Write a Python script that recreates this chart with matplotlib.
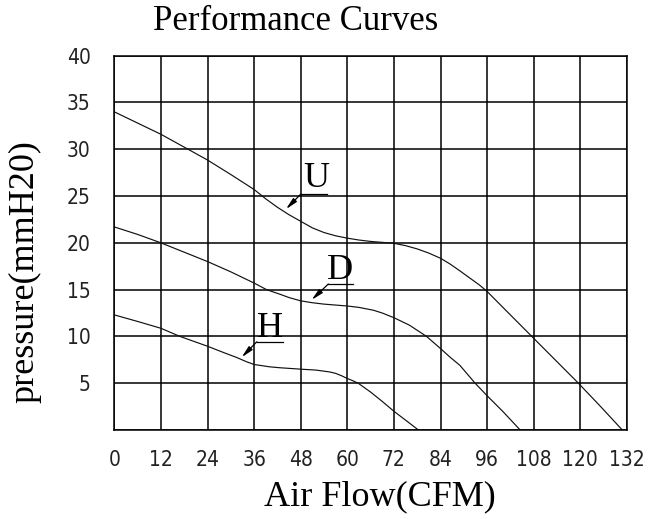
import matplotlib
matplotlib.use("Agg")
import matplotlib.pyplot as plt

plt.rcParams['font.family'] = ['Liberation Serif', 'DejaVu Serif']

# curve U
u_flow = [0, 6, 12, 19, 24, 30, 36, 39, 42, 45, 48, 51, 54, 57, 60, 63, 66, 69, 72, 75, 78,
          81, 84, 86.4, 89, 91.5, 94, 96, 101.5, 107.5, 113.5, 119.5, 125, 130.8]
u_pres = [34.0, 32.8, 31.6, 30.0, 28.85, 27.3, 25.7, 24.7, 23.8, 23.0, 22.3, 21.6, 21.1,
          20.75, 20.5, 20.3, 20.15, 20.05, 19.95, 19.7, 19.35, 18.9, 18.35, 17.75, 17.0,
          16.25, 15.5, 14.8, 12.5, 10.0, 7.5, 5.0, 2.6, 0.0]

# curve D
d_flow = [0, 6, 12, 18, 24, 30, 36, 39.2, 42.7, 45, 48, 51, 54, 57, 60, 63, 66.7, 69, 72, 76,
          80.4, 84, 86.4, 89, 92.9, 95.9, 100, 104.5]
d_pres = [21.7, 20.9, 20.0, 19.0, 18.0, 16.9, 15.7, 15.0, 14.5, 14.15, 13.8, 13.6, 13.45,
          13.35, 13.25, 13.1, 12.8, 12.5, 12.0, 11.2, 10.0, 8.7, 7.8, 6.9, 5.0, 3.7, 2.0, 0.0]

# curve H
h_flow = [0, 6, 12, 16.9, 24, 28, 31.5, 34, 36, 40, 42.7, 48, 52, 55.5, 57, 58.5, 60, 61.5,
          62.8, 66, 69, 72, 75, 78.3]
h_pres = [12.3, 11.6, 10.87, 10.0, 8.95, 8.3, 7.75, 7.3, 7.0, 6.75, 6.65, 6.5, 6.4, 6.2,
          6.05, 5.8, 5.5, 5.25, 5.0, 4.05, 3.05, 2.0, 1.05, 0.0]

x_ticks = list(range(0, 133, 12))
y_ticks = list(range(0, 41, 5))
y_ticklabels = [''] + [str(v) for v in y_ticks[1:]]

# curve tags: letter, letter position (baseline), underline x-range, underline y, arrow tip
tag_names = ['U', 'D', 'H']
tag_text_xy = [(52.1, 26.0), (58.1, 16.1), (40.1, 9.97)]
tag_line_x = [(48.0, 54.7), (55.1, 61.4), (36.7, 43.4)]
tag_line_y = [25.2, 15.6, 9.43]
tag_tip = [(44.2, 23.6), (50.8, 13.9), (32.8, 7.77)]

fig = plt.figure(figsize=(6.55, 5.19), dpi=100)
ax = fig.add_axes([0.1745, 0.1715, 0.7827, 0.7212])

ax.set_xlim(0, 132)
ax.set_ylim(0, 40)
ax.set_xticks(x_ticks)
ax.set_yticks(y_ticks)
ax.set_xticklabels([str(v) for v in x_ticks])
ax.set_yticklabels(y_ticklabels)
ax.grid(True, color='black', linewidth=1.1)
ax.set_axisbelow(True)
for s in ax.spines.values():
    s.set_color('black')
    s.set_linewidth(1.1)

ax.tick_params(axis='x', length=0, pad=14.5)
ax.tick_params(axis='y', length=0, pad=17)
for lab in ax.get_xticklabels() + ax.get_yticklabels():
    lab.set_family(['DejaVu Sans'])
    lab.set_stretch('condensed')
    lab.set_fontsize(15)
    lab.set_color('#222222')

for fx, fy in [(u_flow, u_pres), (d_flow, d_pres), (h_flow, h_pres)]:
    ax.plot(fx, fy, color='#111111', linewidth=0.85)

for name, (tx, ty), (lx0, lx1), ly, tip in zip(tag_names, tag_text_xy, tag_line_x,
                                               tag_line_y, tag_tip):
    ax.text(tx, ty, name, fontsize=26, ha='center', va='baseline')
    ax.plot([lx0, lx1], [ly, ly], color='black', linewidth=0.9)
    ax.annotate('', xy=tip, xytext=(lx0, ly),
                arrowprops=dict(arrowstyle='-|>,head_length=0.7,head_width=0.15',
                                color='black', lw=0.9, shrinkA=0, shrinkB=0))

fig.text(296 / 655, 1 - 22 / 519, 'Performance Curves', fontsize=25,
         ha='center', va='center')

ax.set_xlabel('Air Flow(CFM)', fontsize=26)
ax.xaxis.set_label_coords(0.518, -0.178)
ax.xaxis.label.set_va('center')

ax.set_ylabel('pressure(mmH20)', fontsize=26)
ax.yaxis.set_label_coords(-0.174, 0.4235)
ax.yaxis.label.set_va('center')

fig.savefig('out.png', dpi=100)
